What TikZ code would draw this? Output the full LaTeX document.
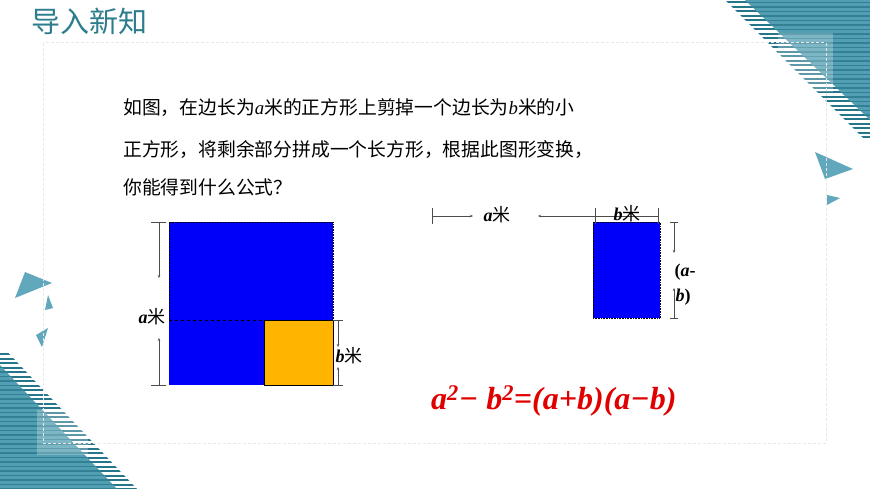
\documentclass[tikz,border=0pt]{standalone}
\usepackage{fontspec}
\setmainfont{Liberation Serif}
\newfontfamily\cjk{Noto Sans CJK SC}
\usetikzlibrary{arrows.meta}

\definecolor{tealbg}{RGB}{82,158,178}
\definecolor{tealdk}{RGB}{38,118,138}
\definecolor{tealtri}{RGB}{98,168,188}
\definecolor{titlec}{RGB}{45,125,140}
\definecolor{blueq}{RGB}{0,0,250}
\definecolor{orangeq}{RGB}{255,180,0}
\definecolor{redf}{RGB}{225,0,0}

\begin{document}
\begin{tikzpicture}[x=1pt, y=-1pt,
  heading/.style = {anchor=west, inner sep=0, text=titlec, font=\cjk\fontsize{29}{29}\selectfont},
  body/.style = {anchor=west, inner sep=0, font=\cjk\fontsize{18.8}{18.8}\selectfont},
  dimlabel/.style = {inner sep=0, font=\fontsize{18}{18}\selectfont},
  dimline/.style = {gray!60!black, line width=.5pt},
  dimarrow/.style = {dimline, -{Stealth[length=3pt,width=2.5pt]}},
  dimtick/.style = {dimline},
  stripe/.style = {tealdk, line width=2pt},
  instripe/.style = {tealdk!75!tealbg, line width=1.4pt},
  formula/.style = {anchor=west, inner sep=0, text=redf, font=\rmfamily\bfseries\itshape\fontsize{32}{32}\selectfont},
  ]
  \useasboundingbox (0,0) rectangle (870,489);
  \fill[white] (0,0) rectangle (870,489);

  % corner decorations
  \begin{scope}
    \clip (725,0) -- (870,0) -- (870,145) -- cycle;
    \foreach \y in {2.5,7,...,140} \draw[stripe] (700,\y) -- (870,\y);
  \end{scope}
  \fill[tealbg] (745,0) -- (870,0) -- (870,120) -- cycle;
  \begin{scope}
    \clip (745,0) -- (870,0) -- (870,120) -- cycle;
    \foreach \y in {2.5,7,...,140} \draw[instripe] (700,\y) -- (870,\y);
  \end{scope}
  \fill[white, opacity=.25] (778,33) rectangle (833,92);

  \begin{scope}
    \clip (0,344) -- (0,489) -- (137,489) -- cycle;
    \foreach \y in {354,358.5,...,489} \draw[stripe] (0,\y) -- (140,\y);
  \end{scope}
  \fill[tealbg] (0,365) -- (0,489) -- (117,489) -- cycle;
  \begin{scope}
    \clip (0,365) -- (0,489) -- (117,489) -- cycle;
    \foreach \y in {354,358.5,...,489} \draw[instripe] (0,\y) -- (140,\y);
  \end{scope}
  \fill[white, opacity=.25] (37,410) rectangle (88,455);

  \fill[tealtri] (25,272) -- (52,283) -- (15,298) -- cycle;
  \fill[tealtri] (48,295) -- (53,308) -- (45,310) -- cycle;
  \fill[tealtri] (36,335) -- (48,328) -- (42,347) -- cycle;
  \fill[tealtri] (815,152) -- (853,169) -- (825,179) -- cycle;
  \fill[tealtri] (827,195) -- (840,198) -- (827,205) -- cycle;

  \draw[gray!18, line width=1pt, dash pattern=on 3pt off 2pt] (43,43) rectangle (826,443);

  \node[heading] (title) at (31,21) {导入新知};

  \node[body] (line1) at (123,108) {如图，在边长为{\rmfamily\itshape a}米的正方形上剪掉一个边长为{\rmfamily\itshape b}米的小};
  \node[body] (line2) at (123,150) {正方形，将剩余部分拼成一个长方形，根据此图形变换，};
  \node[body] (line3) at (123,187) {你能得到什么公式？};

  % square with the small square cut off
  \fill[blueq] (169,222) rectangle (333,320);
  \fill[blueq] (169,320) rectangle (264,385);
  \draw[black, densely dotted, line width=.6pt] (169,320) -- (169,222) -- (333,222) -- (333,320);
  \draw[black, dashed, line width=.6pt] (169,320) -- (264,320);
  \draw[black, line width=.6pt, fill=orangeq] (264,320) rectangle (333,385);

  \coordinate (a1) at (159,222); \coordinate (a2) at (159,278);
  \coordinate (a3) at (159,385); \coordinate (a4) at (159,338);
  \draw[dimarrow] (a1) -- (a2);
  \draw[dimarrow] (a3) -- (a4);
  \draw[dimtick] (a1) +(-8,0) -- +(7,0);
  \draw[dimtick] (a3) +(-8,0) -- +(7,0);
  \node[dimlabel] (la) at (152,317) {\bfseries\itshape a\cjk\mdseries\upshape 米};

  \coordinate (b1) at (338,320); \coordinate (b2) at (338,347);
  \coordinate (b3) at (338,385); \coordinate (b4) at (338,367);
  \draw[dimarrow] (b1) -- (b2);
  \draw[dimarrow] (b3) -- (b4);
  \draw[dimtick] (b1) +(-5,0) -- +(5,0);
  \draw[dimtick] (b3) +(-5,0) -- +(5,0);
  \node[dimlabel] (lb) at (349,356) {\bfseries\itshape b\cjk\mdseries\upshape 米};

  % the rectangle
  \fill[blueq] (593,222) rectangle (660,318);
  \draw[black, densely dotted, line width=.6pt] (593,222) rectangle (660,318);

  \coordinate (c1) at (432,216); \coordinate (c2) at (473,216);
  \coordinate (c3) at (538,216); \coordinate (c4) at (595,216);
  \coordinate (c5) at (658,216);
  \draw[dimarrow] (c1) -- (c2);
  \draw[dimarrow] (c4) -- (c3);
  \draw[dimline] (c4) -- (c5);
  \draw[dimtick] (c1) +(0,-8) -- +(0,8);
  \draw[dimtick] (c4) +(0,-8) -- +(0,8);
  \draw[dimtick] (c5) +(0,-8) -- +(0,8);
  \node[dimlabel] (lc) at (497,215) {\bfseries\itshape a\cjk\mdseries\upshape 米};
  \node[dimlabel] (ld) at (627,214) {\bfseries\itshape b\cjk\mdseries\upshape 米};

  \coordinate (d1) at (674,222); \coordinate (d2) at (674,253);
  \coordinate (d3) at (674,318); \coordinate (d4) at (674,288);
  \draw[dimarrow] (d1) -- (d2);
  \draw[dimarrow] (d3) -- (d4);
  \draw[dimtick] (d1) +(-4,0) -- +(4,0);
  \draw[dimtick] (d3) +(-4,0) -- +(4,0);
  \node[dimlabel, font=\bfseries\fontsize{18}{18}\selectfont] (le) at (685,272) {(\textit{a}-};
  \node[dimlabel, font=\bfseries\fontsize{18}{18}\selectfont] (lf) at (683,297) {\textit{b})};

  \node[formula] (eq) at (431,401) {a\textsuperscript{2}− b\textsuperscript{2}=(a+b)(a−b)};
\end{tikzpicture}
\end{document}
